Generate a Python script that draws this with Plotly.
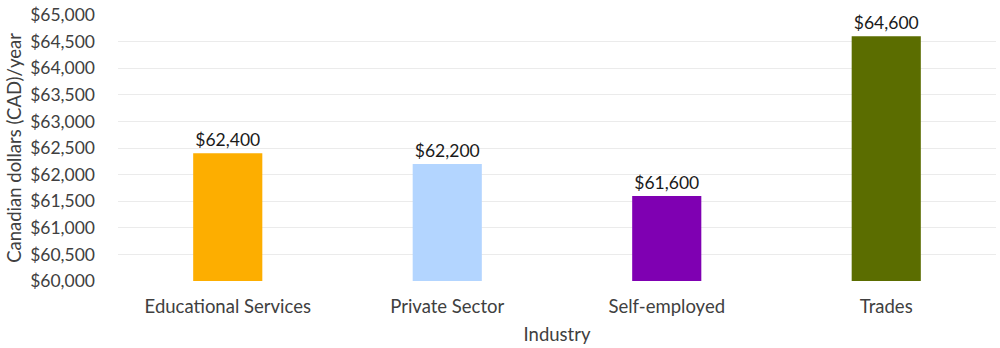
import plotly.graph_objects as go

categories = ["Educational Services", "Private Sector", "Self-employed", "Trades"]
values = [62400, 62200, 61600, 64600]
colors = ["#FDAE00", "#B3D5FF", "#7F00B2", "#5B6D00"]
tick_vals = list(range(60000, 65001, 500))
tick_text = [f"${v:,}" for v in tick_vals]
labels = [f"${v:,}" for v in values]

font_family = "Lato, Carlito, Calibri, sans-serif"
text_color = "#404040"

fig = go.Figure(go.Bar(
    x=categories, y=values,
    marker=dict(color=colors, line=dict(width=0)),
    text=labels, textposition="outside", cliponaxis=False,
    textfont=dict(family=font_family, size=17.5, color="#1a1a1a"),
    width=0.315,
))

fig.update_layout(
    width=1000, height=348,
    margin=dict(l=118, r=4, t=15, b=67),
    paper_bgcolor="white", plot_bgcolor="white",
    font=dict(family=font_family, size=18.5, color=text_color),
    showlegend=False,
)
fig.update_xaxes(
    title=dict(text="Industry", font=dict(size=18.5, color=text_color), standoff=12),
    showgrid=False, showline=False, ticks="",
    tickfont=dict(size=18.5, color=text_color),
    ticklabelstandoff=12,
)
fig.update_yaxes(
    range=[60000, 65000],
    tickvals=tick_vals, ticktext=tick_text,
    showgrid=True, gridcolor="#EBEBEB", gridwidth=1,
    zeroline=False, showline=False, ticks="",
    tickfont=dict(size=17.5, color=text_color),
    ticklabelstandoff=22,
    title=dict(text="Canadian dollars (CAD)/year", font=dict(size=18.5, color=text_color), standoff=3),
)

fig.write_html("out.html")
